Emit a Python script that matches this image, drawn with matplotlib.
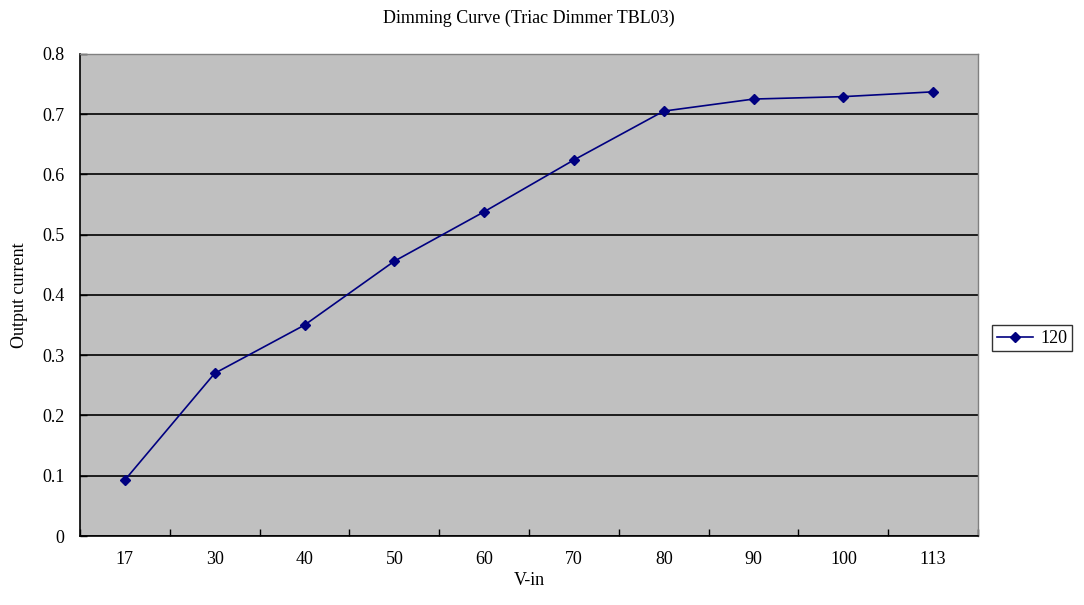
import numpy as np
import matplotlib.pyplot as plt
from matplotlib.ticker import FixedLocator

# data
v_in = ["17", "30", "40", "50", "60", "70", "80", "90", "100", "113"]
output_current = [0.093, 0.270, 0.350, 0.456, 0.538, 0.624, 0.705, 0.725, 0.729, 0.737]
series_name = "120"
y_ticks = [0.0, 0.1, 0.2, 0.3, 0.4, 0.5, 0.6, 0.7, 0.8]
y_labels = ["0", "0.1", "0.2", "0.3", "0.4", "0.5", "0.6", "0.7", "0.8"]

plt.rcParams['font.family'] = ['Liberation Serif', 'DejaVu Serif']

fig = plt.figure(figsize=(10.84, 6.05), dpi=100, facecolor='white')
ax = fig.add_axes([0.0738, 0.114, 0.8285, 0.797])
ax.set_facecolor('#c0c0c0')

x = np.arange(len(v_in))
ax.plot(x, output_current, color='#000080', linewidth=1.2, marker='D',
        markersize=5, markerfacecolor='#000080', markeredgecolor='#000080',
        label=series_name, zorder=3)

ax.set_xlim(-0.5, len(v_in) - 0.5)
ax.set_ylim(0, 0.8)
ax.set_yticks(y_ticks)
ax.set_yticklabels(y_labels)
ax.yaxis.grid(True, color='black', linewidth=1.2)
ax.set_axisbelow(True)

# category labels centred, tick marks at category boundaries
ax.set_xticks(x)
ax.set_xticklabels(v_in)
ax.xaxis.set_minor_locator(FixedLocator(np.arange(-0.5, len(v_in), 1.0)))
ax.tick_params(axis='x', which='major', length=0, pad=11, labelsize=13)
ax.tick_params(axis='x', which='minor', direction='in', length=5, width=1, color='black')
ax.tick_params(axis='y', direction='in', length=5, width=1, pad=11, labelsize=13)

for side in ['left', 'bottom']:
    ax.spines[side].set_color('black')
    ax.spines[side].set_linewidth(1.2)
for side in ['top', 'right']:
    ax.spines[side].set_color('#808080')
    ax.spines[side].set_linewidth(1.0)

ax.set_title("Dimming Curve (Triac Dimmer TBL03)", fontsize=13, pad=22)
ax.set_xlabel("V-in", fontsize=13, labelpad=3)
ax.set_ylabel("Output current", fontsize=13, labelpad=10)

leg = ax.legend(loc='center left', bbox_to_anchor=(1.012, 0.41), frameon=True,
                fancybox=False, edgecolor='black', fontsize=13, handlelength=2.0,
                borderpad=0.25, handletextpad=0.4, borderaxespad=0.2)
leg.get_frame().set_linewidth(1.0)

fig.savefig("out.png", dpi=100)
